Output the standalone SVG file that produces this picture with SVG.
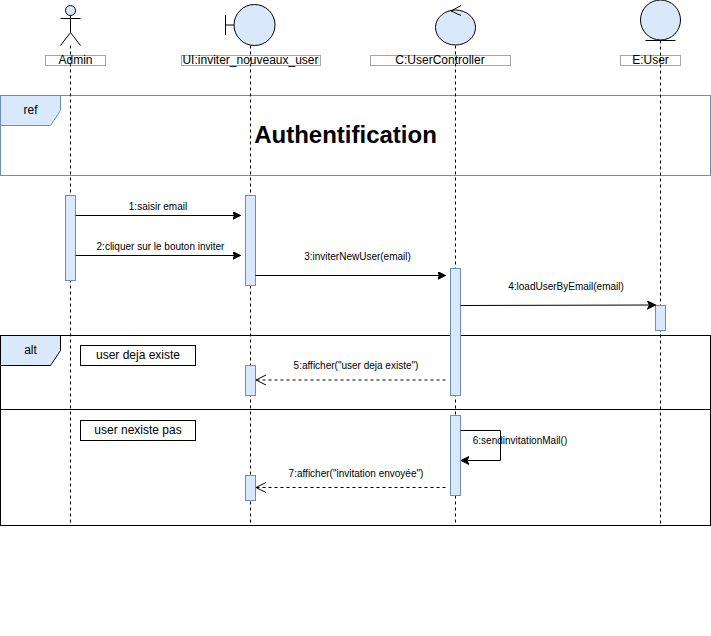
<svg xmlns="http://www.w3.org/2000/svg" width="711" height="636" viewBox="0 0 711 636">
<style>
text{font-family:"Liberation Sans",Arial,sans-serif;fill:#000;text-anchor:middle}
.n{font-size:12px}
.m{font-size:10px}
.fig{fill:#dae8fc;stroke:#000;stroke-width:1}
.ink{fill:none;stroke:#000;stroke-width:1}
.lbl{fill:#fff;stroke:#a6a6a6;stroke-width:1}
.life{fill:none;stroke:#000;stroke-width:1;stroke-dasharray:3 3}
.act{fill:#dae8fc;stroke:#6c8ebf;stroke-width:1}
.tabb{fill:#dae8fc;stroke:#6c8ebf;stroke-width:1}
.tabk{fill:#dae8fc;stroke:#000;stroke-width:1}
.note{fill:#fff;stroke:#000;stroke-width:1}
.msg{fill:none;stroke:#000;stroke-width:1}
.dash{stroke-dasharray:3 3}
</style>
<defs>
<marker id="solid" markerUnits="userSpaceOnUse" markerWidth="10" markerHeight="10" refX="8" refY="4" orient="auto"><path d="M0 0L8 4L0 8L2 4Z" fill="#000" stroke="#000" stroke-width="1"/></marker>
<marker id="open" markerUnits="userSpaceOnUse" markerWidth="12" markerHeight="12" refX="10" refY="5" orient="auto"><path d="M0 0L10 5L0 10" fill="none" stroke="#000" stroke-width="1"/></marker>
</defs>
<g id="frame-ref">
<rect x="0.5" y="95.5" width="710" height="80" fill="#fff" stroke="#6c8ebf"/>
<path class="tabb" d="M0.5 95.5H60.5V110.5L50.5 125.5H0.5Z"/>
<text class="n" x="30.5" y="114">ref</text>
<text x="345.5" y="143" style="font-size:24px;font-weight:bold">Authentification</text>
</g>
<g id="frame-alt">
<rect x="0.5" y="335.5" width="710" height="190" fill="none" stroke="#000"/>
<path class="ink" d="M0.5 409.5H710.5"/>
<path class="tabk" d="M0.5 335.5H60.5V350.5L50.5 365.5H0.5Z"/>
<text class="n" x="30.5" y="354">alt</text>
</g>
<g id="admin">
<rect class="lbl" x="45.5" y="55.5" width="60" height="10"/>
<text class="n" x="75.5" y="64">Admin</text>
<circle class="fig" cx="70.5" cy="10.5" r="5"/>
<path class="ink" d="M60.5 18.5H80.5M70.5 15.5V32.5L60.5 45.5M70.5 32.5L80.5 45.5"/>
<path class="life" d="M70.5 45.5V525"/>
<rect class="act" x="65.5" y="195.5" width="10" height="85"/>
</g>
<g id="ui">
<rect class="lbl" x="181.5" y="55.5" width="139" height="10"/>
<text class="n" x="250.5" y="64">UI:inviter_nouveaux_user</text>
<circle class="fig" cx="254.5" cy="25" r="20.5"/>
<path class="ink" d="M225.5 15V35M225.5 25H234"/>
<path class="life" d="M250.5 45.5V525"/>
<rect class="act" x="245.5" y="195.5" width="10" height="90"/>
<rect class="act" x="245.5" y="365.5" width="10" height="30"/>
<rect class="act" x="245.5" y="475.5" width="10" height="25"/>
</g>
<g id="controller">
<rect class="lbl" x="370.5" y="55.5" width="140" height="10"/>
<text class="n" x="440" y="64">C:UserController</text>
<ellipse class="fig" cx="455.5" cy="27.5" rx="20" ry="17.5"/>
<path class="ink" d="M461 5.5L451 11L461 15.5"/>
<path class="life" d="M455.5 45.5V525"/>
<rect class="act" x="450.5" y="268.5" width="10" height="127"/>
<rect class="act" x="450.5" y="415.5" width="10" height="80"/>
</g>
<g id="entity">
<rect class="lbl" x="620.5" y="55.5" width="60" height="10"/>
<text class="n" x="650.5" y="64">E:User</text>
<circle class="fig" cx="660.5" cy="20" r="20"/>
<path class="ink" d="M645.5 40.5H675.5"/>
<path class="life" d="M660.5 40.5V525"/>
<rect class="act" x="655.5" y="305.5" width="10" height="25"/>
</g>
<g id="guard-1">
<rect class="note" x="80.5" y="345.5" width="115" height="20"/>
<text class="n" x="138" y="359">user deja existe</text>
</g>
<g id="guard-2">
<rect class="note" x="80.5" y="420.5" width="115" height="20"/>
<text class="n" x="138" y="434">user nexiste pas</text>
</g>
<g id="connectors">
<path class="msg" marker-end="url(#solid)" d="M75.5 215.5H240.5"/>
<path class="msg" marker-end="url(#solid)" d="M75.5 255.5H240.5"/>
<path class="msg" marker-end="url(#solid)" d="M255.5 275.5H445.5"/>
<path class="msg" marker-end="url(#solid)" d="M460.5 305.5L655.5 305"/>
<path class="msg dash" marker-end="url(#open)" d="M445.5 380H256"/>
<path class="msg" marker-end="url(#solid)" d="M460.5 430.5H500.5V460.5H461"/>
<path class="msg dash" marker-end="url(#open)" d="M445.5 487.5H256"/>
</g>
<g id="labels">
<text class="m" x="158" y="210">1:saisir email</text>
<text class="m" x="160.5" y="250">2:cliquer sur le bouton inviter</text>
<text class="m" x="357.5" y="260">3:inviterNewUser(email)</text>
<text class="m" x="566" y="290">4:loadUserByEmail(email)</text>
<text class="m" x="356" y="369">5:afficher("user deja existe")</text>
<text class="m" x="520" y="444">6:sendinvitationMail()</text>
<text class="m" x="356" y="477">7:afficher("invitation envoyée")</text>
</g>
</svg>
